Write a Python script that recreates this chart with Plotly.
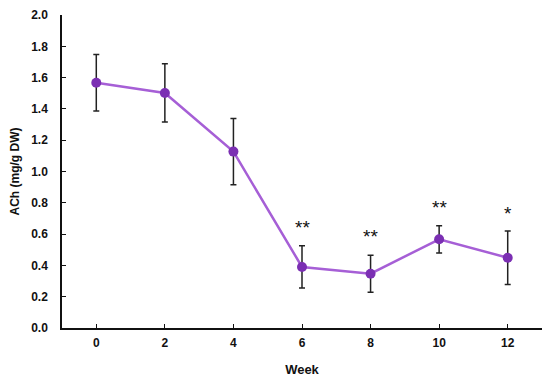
import plotly.graph_objects as go

weeks = [0, 2, 4, 6, 8, 10, 12]
ach = [1.567, 1.502, 1.127, 0.390, 0.347, 0.567, 0.449]
err = [0.181, 0.186, 0.211, 0.135, 0.118, 0.087, 0.171]
sig_weeks = [6, 8, 10, 12]
sig_labels = ["**", "**", "**", "*"]
sig_y = [0.64, 0.585, 0.77, 0.73]
x_ticks = [0, 2, 4, 6, 8, 10, 12]
y_ticks = [0.0, 0.2, 0.4, 0.6, 0.8, 1.0, 1.2, 1.4, 1.6, 1.8, 2.0]

font = "Liberation Sans, Arial, sans-serif"

fig = go.Figure()
fig.add_trace(go.Scatter(
    x=weeks, y=ach, mode="lines+markers",
    line=dict(color="#A65FD6", width=2.5),
    marker=dict(color="#7B2FB3", size=10),
    error_y=dict(type="data", array=err, visible=True, color="#222222", thickness=1.5, width=3),
    showlegend=False,
))

for xw, lab, yv in zip(sig_weeks, sig_labels, sig_y):
    fig.add_annotation(x=xw, y=yv, text=lab, showarrow=False,
                       font=dict(family=font, size=19, color="#111111"))

# page body has an 8px default margin, so the figure is drawn at (8, 8)
fig.update_layout(
    width=542, height=372,
    margin=dict(l=54, r=8, t=7, b=52),
    paper_bgcolor="white", plot_bgcolor="white",
    font=dict(family=font, size=12, color="#111111"),
)
fig.update_xaxes(
    range=[-1, 13], tickvals=x_ticks, ticktext=[f"<b>{v}</b>" for v in x_ticks],
    showline=True, linecolor="#111111", linewidth=1.5, automargin=False,
    ticks="inside", ticklen=4, tickcolor="#111111", showgrid=False, zeroline=False,
    title=dict(text="<b>Week</b>", font=dict(size=13), standoff=16),
    tickfont=dict(size=12), ticklabelstandoff=3,
)
fig.update_yaxes(
    range=[0, 2.0], tickvals=y_ticks, ticktext=[f"<b>{v:.1f}</b>" for v in y_ticks],
    showline=True, linecolor="#111111", linewidth=1.5, automargin=False,
    ticks="inside", ticklen=4, tickcolor="#111111", showgrid=False, zeroline=False,
    title=dict(text="<b>ACh (mg/g DW)</b>", font=dict(size=12), standoff=10),
    tickfont=dict(size=12), ticklabelstandoff=10,
)

fig.write_html("out.html")
